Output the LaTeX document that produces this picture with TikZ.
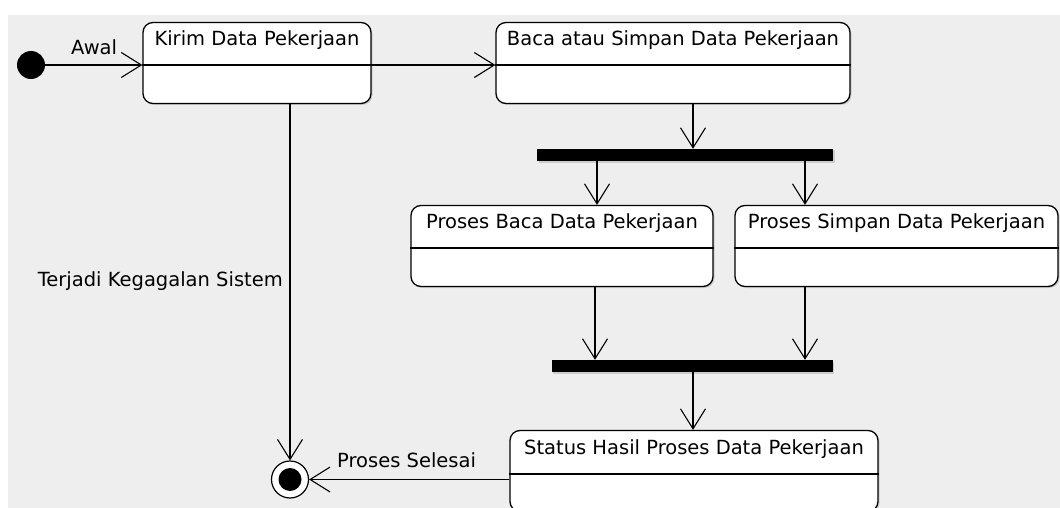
\documentclass[tikz,border=0pt]{standalone}
\usepackage{fontspec}
\setmainfont{DejaVu Sans}
\usetikzlibrary{arrows.meta,shadows}

\definecolor{latarAbu}{HTML}{EEEEEE}

\begin{document}
\begin{tikzpicture}[x=1pt, y=-1pt,
  aktivitas/.style={draw, fill=white, line width=1.3pt, rounded corners=10pt,
    inner sep=0pt, minimum height=81pt,
    drop shadow={shadow xshift=1.5pt, shadow yshift=-1.5pt, opacity=0.3}},
  palang/.style={fill=black, inner sep=0pt, minimum height=12pt,
    drop shadow={shadow xshift=1.5pt, shadow yshift=-1.5pt, opacity=0.3}},
  garis/.style={line width=1.3pt},
  alir/.style={line width=1.1pt, -{Straight Barb[length=20pt, width=25pt]}},
  teks/.style={font=\fontsize{19.5}{23}\selectfont, inner sep=0pt, anchor=base}]
  \clip (0, 0) rectangle (1060, 508);
  \fill[white] (0, 0) rectangle (1060, 508);
  \fill[latarAbu] (8, 15) rectangle (1060, 508);

  \node (awal) at (31, 65) [circle, fill=black, minimum size=28pt, inner sep=0pt] {};
  \node (kirim) at (257, 63) [aktivitas, minimum width=228pt] {};
  \node (baca) at (673, 63) [aktivitas, minimum width=354pt] {};
  \node (cabang) at (685, 155) [palang, minimum width=296pt] {};
  \node (prosesBaca) at (562, 246) [aktivitas, minimum width=302pt] {};
  \node (prosesSimpan) at (896.5, 246) [aktivitas, minimum width=323pt] {};
  \node (gabung) at (692, 366) [palang, minimum width=281pt] {};
  \node (status) at (694, 471) [aktivitas, minimum width=368pt] {};
  \node (akhir) at (290, 479.5) [circle, draw, fill=white, line width=1.2pt,
    minimum size=37pt, inner sep=0pt,
    path picture={\fill[black] (path picture bounding box.center) circle (11.5pt);}] {};

  \draw[garis] ([yshift=-2pt]kirim.west) -- ([yshift=-2pt]kirim.east);
  \draw[garis] ([yshift=-2pt]baca.west) -- ([yshift=-2pt]baca.east);
  \draw[garis] ([yshift=-2pt]prosesBaca.west) -- ([yshift=-2pt]prosesBaca.east);
  \draw[garis] ([yshift=-2pt]prosesSimpan.west) -- ([yshift=-2pt]prosesSimpan.east);
  \draw[garis] ([yshift=-3pt]status.west) -- ([yshift=-3pt]status.east);

  \node (kirimJudul) at ([yshift=-24pt]kirim.north) [teks] {Kirim Data Pekerjaan};
  \node (bacaJudul) at ([yshift=-24pt]baca.north) [teks] {Baca atau Simpan Data Pekerjaan};
  \node (prosesBacaJudul) at ([yshift=-24pt]prosesBaca.north) [teks] {Proses Baca Data Pekerjaan};
  \node (prosesSimpanJudul) at ([yshift=-24pt]prosesSimpan.north) [teks] {Proses Simpan Data Pekerjaan};
  \node (statusJudul) at ([yshift=-25pt]status.north) [teks] {Status Hasil Proses Data Pekerjaan};

  \draw[alir] (awal) -- (awal -| kirim.west);
  \draw[alir] ([yshift=-2pt]kirim.east) -- ([yshift=-2pt]baca.west);
  \draw[alir] ([xshift=20pt]baca.south) -- ([xshift=20pt]baca.south |- cabang.north);
  \draw[alir] ([xshift=35pt]prosesBaca.north |- cabang.south) -- ([xshift=35pt]prosesBaca.north);
  \draw[alir] ([xshift=-91.5pt]prosesSimpan.north |- cabang.south) -- ([xshift=-91.5pt]prosesSimpan.north);
  \draw[alir] ([xshift=33pt]prosesBaca.south) -- ([xshift=33pt]prosesBaca.south |- gabung.north);
  \draw[alir] ([xshift=-91.5pt]prosesSimpan.south) -- ([xshift=-91.5pt]prosesSimpan.south |- gabung.north);
  \draw[alir] ([xshift=-1pt]status.north |- gabung.south) -- ([xshift=-1pt]status.north);
  \draw[alir] ([xshift=33pt]kirim.south) -- (akhir);
  \draw[alir] (status.west |- akhir) -- (akhir);

  \node (lblAwal) at (71, 55) [teks, anchor=base west] {Awal};
  \node (lblGagal) at (283, 286) [teks, anchor=base east] {Terjadi Kegagalan Sistem};
  \node (lblSelesai) at (337, 467) [teks, anchor=base west] {Proses Selesai};
\end{tikzpicture}
\end{document}
